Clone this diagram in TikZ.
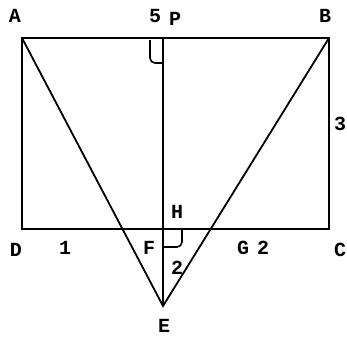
\documentclass[tikz,border=0pt]{standalone}
\usepackage{fontspec}
\setmonofont{Liberation Mono}
\usetikzlibrary{calc}
\begin{document}
\begin{tikzpicture}[x=1pt,y=-1pt,
  lbl/.style={font=\ttfamily\bfseries\fontsize{20}{20}\selectfont,inner sep=0pt},
  frame/.style={line width=2.8pt,line join=miter},
  seg/.style={line width=1.8pt},
  hook/.style={line width=1.6pt,rounded corners=5pt}]
\useasboundingbox (0,0) rectangle (347,338);
% points of the figure
\coordinate (A) at (22,38);
\coordinate (B) at (329,38);
\coordinate (C) at (329,229);
\coordinate (D) at (22,229);
\coordinate (P) at (163,38);
\coordinate (E) at (163,306);
\coordinate (F) at (163,229);
% rectangle and triangle
\draw[frame] (A) -- (B) -- (C) -- (D) -- cycle;
\draw[seg] (A) -- (E) -- (B);
\draw[seg] (P) -- (E);
% right angle marks
\draw[hook] ($(P)+(-13,2)$) -- ($(P)+(-13,25)$) -- ($(P)+(0,25)$);
\draw[hook] ($(F)+(19,1)$) -- ($(F)+(19,18)$) -- ($(F)+(0,18)$);
% labels
\foreach \n/\x/\y/\t in {la/15/16/A,lb/325/16/B,lc/340/250/C,ld/16/250/D,le/164/326/E,
  lf/149/248/F,lg/243/248/G,lh/177/212/H,lp/175/19/P,
  l5/155/16/5,l3/340/124/3,l1/65/248/1,l2a/263/248/2,l2b/177/268/2}
  \node[lbl] (\n) at (\x,\y) {\t};
\end{tikzpicture}
\end{document}
